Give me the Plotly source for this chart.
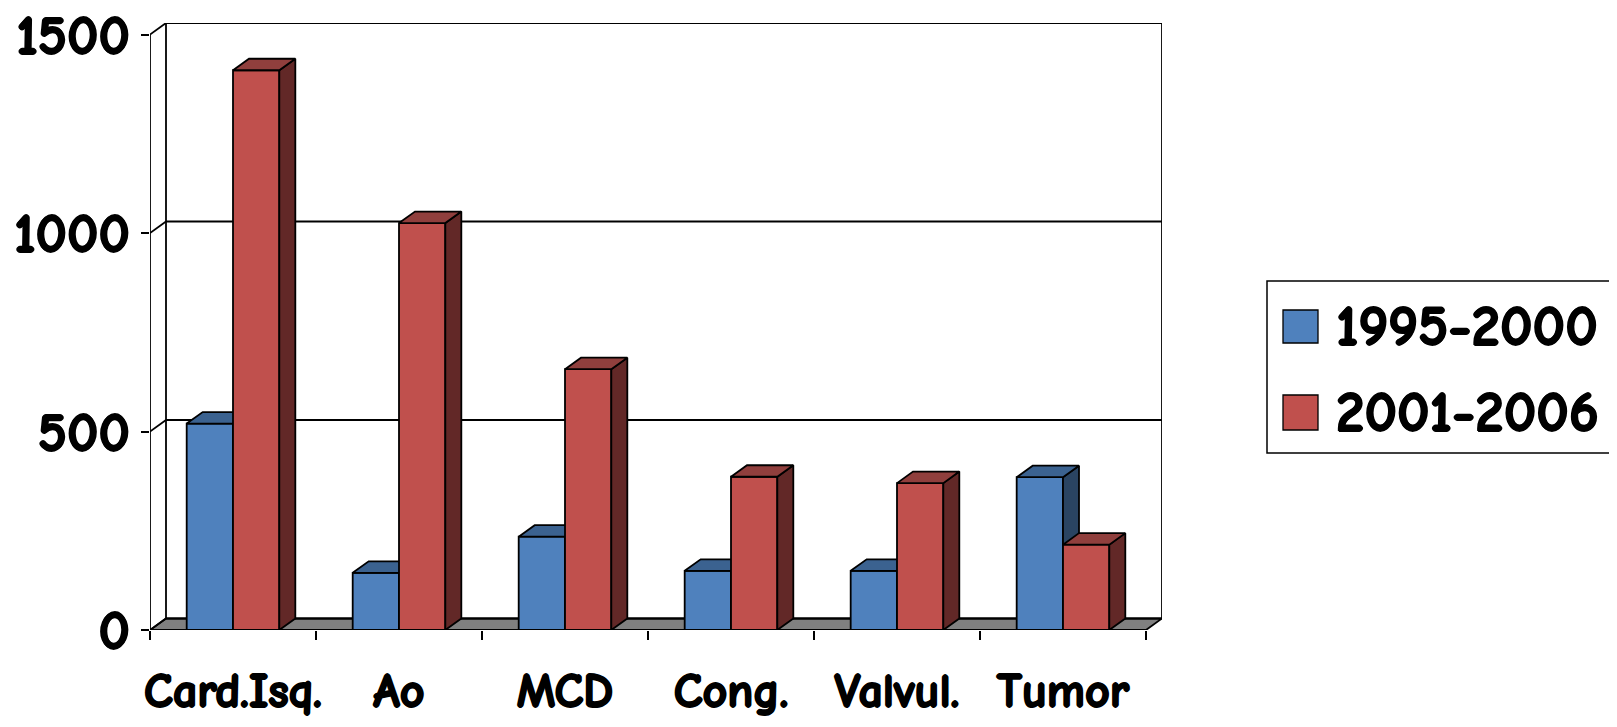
import plotly.graph_objects as go

# ---------------- data ----------------
categories = ["Card.Isq.", "Ao", "MCD", "Cong.", "Valvul.", "Tumor"]
series_names = ["1995-2000", "2001-2006"]
values_1995_2000 = [520, 144, 235, 149, 149, 385]
values_2001_2006 = [1410, 1025, 657, 386, 370, 215]
y_ticks = [0, 500, 1000, 1500]

# ---------------- styling / geometry ----------------
FONT = "Comic Sans MS, Comic Neue, DejaVu Sans, sans-serif"
BOLD = "1px 0 0 #000, -1px 0 0 #000, 0 1px 0 #000, 0 -1px 0 #000"
DX = 0.0964   # 3D depth offset along x (category units)
DY = 29       # 3D depth offset along y (value units)
W = 0.279     # bar width (category units)
LW = 1.8
front_cols = ["#4F81BD", "#C0504D"]
top_cols = ["#3B6290", "#903F3D"]
side_cols = ["#2A4462", "#622827"]

x_pos = list(range(len(categories)))
x_lo, x_hi = -0.5, len(categories) - 0.5
y_top = max(y_ticks)

fig = go.Figure()


def faces(values, off):
    tx, ty, sx, sy = [], [], [], []
    for i, v in zip(x_pos, values):
        l, r = i + off, i + off + W
        tx += [l, r, r + DX, l + DX, l, None]
        ty += [v, v, v + DY, v + DY, v, None]
        sx += [r, r + DX, r + DX, r, r, None]
        sy += [0, DY, v + DY, v, 0, None]
    return tx, ty, sx, sy


all_vals = [values_1995_2000, values_2001_2006]
offsets = [-W, 0.0]
axes = [("x", "y"), ("x2", "y2")]
for k in range(2):
    xa, ya = axes[k]
    fig.add_trace(go.Bar(
        x=x_pos, y=all_vals[k], width=W, offset=offsets[k], name=series_names[k],
        marker=dict(color=front_cols[k], line=dict(color="black", width=LW)),
        xaxis=xa, yaxis=ya, showlegend=False, hoverinfo="y+name"))
    tx, ty, sx, sy = faces(all_vals[k], offsets[k])
    fig.add_trace(go.Scatter(x=sx, y=sy, mode="lines", fill="toself",
                             fillcolor=side_cols[k], line=dict(color="black", width=LW),
                             xaxis=xa, yaxis=ya, showlegend=False, hoverinfo="skip"))
    fig.add_trace(go.Scatter(x=tx, y=ty, mode="lines", fill="toself",
                             fillcolor=top_cols[k], line=dict(color="black", width=LW),
                             xaxis=xa, yaxis=ya, showlegend=False, hoverinfo="skip"))

shapes = []
line_k = dict(color="black", width=LW)
# floor
shapes.append(dict(type="path", xref="x", yref="y", layer="below",
                   path=f"M {x_lo},0 L {x_hi},0 L {x_hi + DX},{DY} L {x_lo + DX},{DY} Z",
                   fillcolor="#808080", line=line_k))
for t in y_ticks:
    # back wall gridlines
    shapes.append(dict(type="line", xref="x", yref="y", layer="below",
                       x0=x_lo + DX, x1=x_hi + DX, y0=t + DY, y1=t + DY, line=line_k))
    # left wall diagonals
    shapes.append(dict(type="line", xref="x", yref="y", layer="below",
                       x0=x_lo, x1=x_lo + DX, y0=t, y1=t + DY, line=line_k))
# back wall verticals and front y axis
for xv, y0, y1 in [(x_lo + DX, DY, y_top + DY), (x_hi + DX, DY, y_top + DY), (x_lo, 0, y_top)]:
    shapes.append(dict(type="line", xref="x", yref="y", layer="below",
                       x0=xv, x1=xv, y0=y0, y1=y1, line=line_k))

# page body has an 8px margin: figure is placed at (8, 8) in the window
OFF = 8
FW, FH = 1617 - 2 * OFF, 727 - 2 * OFF
PL, PR, PT, PB = 150 - OFF, 1162 - OFF, 23 - OFF, 630 - OFF


def px(x):  # window pixel -> paper x
    return (x - OFF - PL) / (PR - PL)


def py(y):  # window pixel -> paper y
    return (PB - (y - OFF)) / (PB - PT)


shapes.append(dict(type="rect", xref="paper", yref="paper",
                   x0=px(1267), x1=px(1613), y0=py(453), y1=py(281),
                   line=dict(color="black", width=1.5), fillcolor="white"))
annotations = []
rows = [(310, 343), (395, 430)]
for k in range(2):
    a, b = rows[k]
    shapes.append(dict(type="rect", xref="paper", yref="paper",
                       x0=px(1283), x1=px(1318), y0=py(b), y1=py(a),
                       line=dict(color="black", width=1.3), fillcolor=front_cols[k]))
    annotations.append(dict(xref="paper", yref="paper", x=px(1334), y=py((a + b) / 2),
                            text=f"<b>{series_names[k]}</b>", showarrow=False, xanchor="left",
                            yanchor="middle",
                            font=dict(family=FONT, size=57, color="black", shadow=BOLD)))

xrange = [x_lo, x_hi + DX]
yrange = [0, y_top + DY]
fig.update_layout(
    width=FW, height=FH, autosize=False,
    margin=dict(l=PL, r=FW - PR, t=PT, b=FH - PB, pad=0),
    plot_bgcolor="white", paper_bgcolor="white",
    shapes=shapes, annotations=annotations, showlegend=False,
    xaxis=dict(range=xrange, showgrid=False, zeroline=False, showline=False, automargin=False,
               tickmode="array", tickvals=x_pos, ticktext=[f"<b>{c}</b>" for c in categories],
               ticks="", ticklabelstandoff=28, ticklabeloverflow="allow",
               tickfont=dict(family=FONT, size=48, color="black", shadow=BOLD),
               minor=dict(tickmode="array", tickvals=[x_lo + i for i in range(len(categories) + 1)],
                          ticks="outside", ticklen=9, tickwidth=LW, tickcolor="black",
                          showgrid=False)),
    yaxis=dict(range=yrange, showgrid=False, zeroline=False, showline=False, automargin=False,
               tickmode="array", tickvals=y_ticks, ticktext=[f"<b>{t}</b>" for t in y_ticks],
               ticks="outside", ticklen=8, ticklabeloverflow="allow",
               tickwidth=LW, tickcolor="black", ticklabelstandoff=0,
               tickfont=dict(family=FONT, size=55, color="black", shadow=BOLD)),
    xaxis2=dict(range=xrange, overlaying="x", visible=False, automargin=False),
    yaxis2=dict(range=yrange, overlaying="y", visible=False, automargin=False),
)

fig.write_html("out.html")
